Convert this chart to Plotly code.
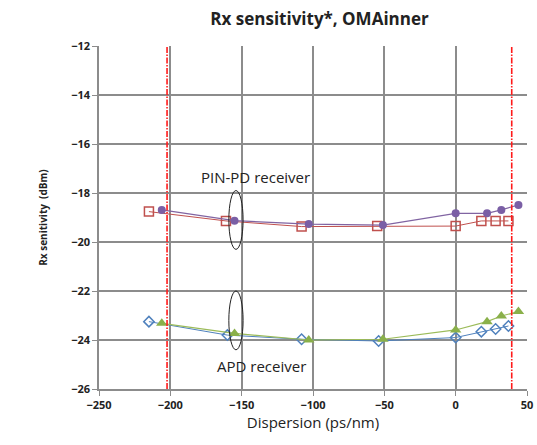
import plotly.graph_objects as go

# PIN-PD receiver
pin_circ_x = [-206, -155, -103, -51, 0, 22, 32, 44]
pin_circ_y = [-18.69, -19.13, -19.27, -19.31, -18.83, -18.83, -18.69, -18.49]
pin_sq_x = [-215, -161, -108, -55, 0, 18, 28, 37]
pin_sq_y = [-18.76, -19.14, -19.37, -19.35, -19.35, -19.14, -19.14, -19.14]
# APD receiver
apd_dia_x = [-215, -160, -108, -54, 0, 18, 28, 37]
apd_dia_y = [-23.25, -23.80, -23.97, -24.04, -23.90, -23.66, -23.55, -23.43]
apd_tri_x = [-206, -155, -103, -51, 0, 22, 32, 44]
apd_tri_y = [-23.32, -23.73, -24.00, -23.97, -23.59, -23.25, -23.02, -22.84]

limit_lines = [-202.3, 39.3]
x_ticks = [-250, -200, -150, -100, -50, 0, 50]
y_ticks = [-12, -14, -16, -18, -20, -22, -24, -26]

fig = go.Figure()
fig.add_trace(go.Scatter(x=pin_sq_x, y=pin_sq_y, mode="lines+markers",
    line=dict(color="#C0504D", width=1),
    marker=dict(symbol="square-open", size=9, color="#C0504D", line=dict(width=1.5))))
fig.add_trace(go.Scatter(x=pin_circ_x, y=pin_circ_y, mode="lines+markers",
    line=dict(color="#8064A2", width=1.2),
    marker=dict(symbol="circle", size=8, color="#7A5FA5")))
fig.add_trace(go.Scatter(x=apd_dia_x, y=apd_dia_y, mode="lines+markers",
    line=dict(color="#4F81BD", width=1),
    marker=dict(symbol="diamond-open", size=8, color="#4F81BD", line=dict(width=1.5))))
fig.add_trace(go.Scatter(x=apd_tri_x, y=apd_tri_y, mode="lines+markers",
    line=dict(color="#9BBB59", width=1.2),
    marker=dict(symbol="triangle-up", size=10, color="#8AB04A")))

for xv in limit_lines:
    fig.add_shape(type="line", x0=xv, x1=xv, y0=-26, y1=-12, xref="x", yref="y",
                  line=dict(color="#FF1A1A", width=1.6, dash="6px,1.5px,1.5px,1.5px"))

# ellipses
fig.add_shape(type="circle", x0=-159, x1=-149, y0=-20.3, y1=-17.9, xref="x", yref="y",
              line=dict(color="#222222", width=1))
fig.add_shape(type="circle", x0=-159, x1=-149, y0=-24.4, y1=-22.0, xref="x", yref="y",
              line=dict(color="#222222", width=1))

fig.add_annotation(x=-140, y=-17.35, text="PIN-PD receiver", showarrow=False,
                   font=dict(size=15, color="#222222", family="Open Sans"))
fig.add_annotation(x=-136, y=-25.05, text="APD receiver", showarrow=False,
                   font=dict(size=15, color="#222222", family="Open Sans"))

fig.update_layout(
    width=537, height=445,
    margin=dict(l=99, r=10, t=46, b=56, autoexpand=False),
    paper_bgcolor="white", plot_bgcolor="white",
    showlegend=False,
    title=dict(text="<b>Rx sensitivity*, OMAinner</b>", x=0.595, xanchor="center",
               y=0.958, yanchor="middle",
               font=dict(size=17, color="#222222", family="Open Sans")),
    font=dict(family="Open Sans", color="#222222"),
)
fig.update_xaxes(range=[-250, 50], tickvals=x_ticks, showgrid=True, gridcolor="#8C8C8C",
                 gridwidth=1.5, showline=True, linecolor="#8C8C8C", linewidth=1.5,
                 ticks="outside", ticklen=5, tickcolor="#8C8C8C", zeroline=False,
                 automargin=False,
                 tickfont=dict(size=11, color="#222222", weight="bold"),
                 title=dict(text="Dispersion (ps/nm)", font=dict(size=15, color="#222222"),
                            standoff=4))
fig.update_yaxes(range=[-26, -12], tickvals=y_ticks, showgrid=True, gridcolor="#8C8C8C",
                 gridwidth=1.5, showline=True, linecolor="#8C8C8C", linewidth=1.5,
                 mirror=False, ticks="outside", ticklen=5, tickcolor="#8C8C8C",
                 zeroline=False, automargin=False,
                 tickfont=dict(size=11, color="#222222", weight="bold"),
                 title=dict(text="<b>Rx senitivity  (dBm)</b>",
                            font=dict(size=10, color="#222222"), standoff=22))
# remove the page's default body margin so the figure fills the 537x445 window
fig.write_html("out.html", config={"displayModeBar": False},
               post_script="document.body.style.margin='0';document.body.style.overflow='hidden';")
